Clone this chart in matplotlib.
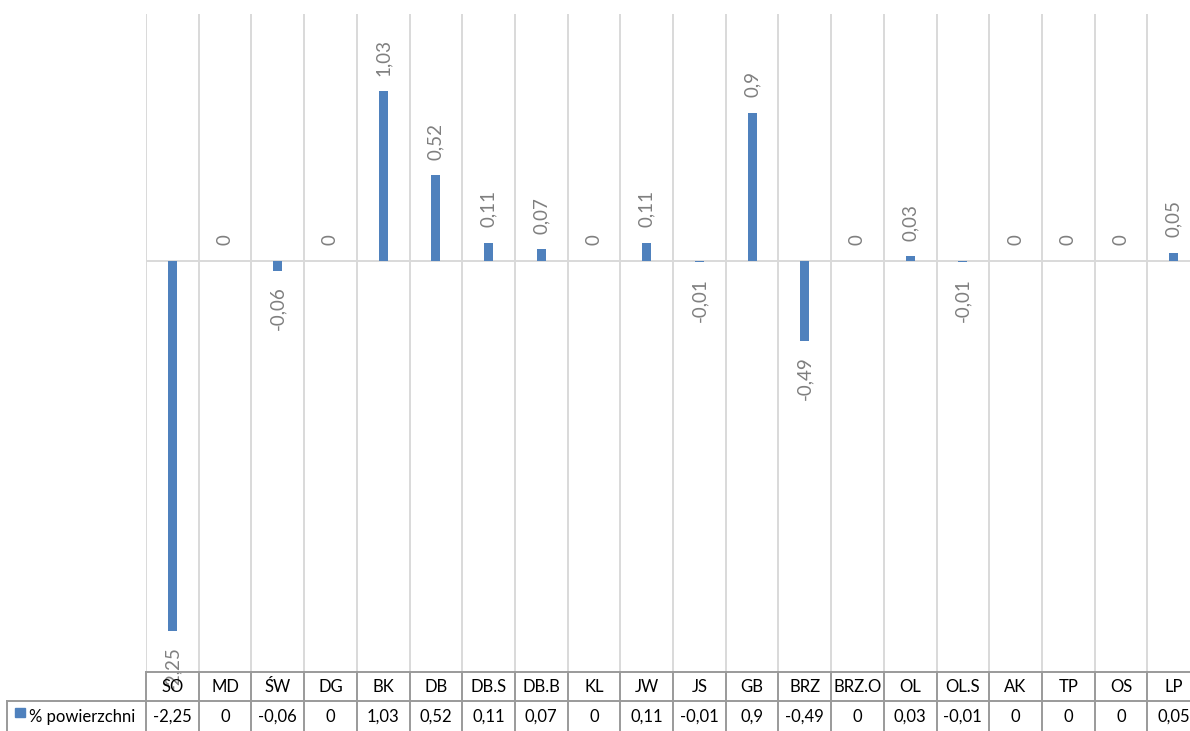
import numpy as np
import matplotlib.pyplot as plt
from matplotlib.lines import Line2D
from matplotlib.patches import Rectangle
from matplotlib.transforms import blended_transform_factory

categories = ["SO", "MD", "ŚW", "DG", "BK", "DB", "DB.S", "DB.B", "KL", "JW",
              "JS", "GB", "BRZ", "BRZ.O", "OL", "OL.S", "AK", "TP", "OS", "LP"]
values = [-2.25, 0, -0.06, 0, 1.03, 0.52, 0.11, 0.07, 0, 0.11,
          -0.01, 0.9, -0.49, 0, 0.03, -0.01, 0, 0, 0, 0.05]
series_name = "% powierzchni"

plt.rcParams['font.family'] = ['Lato', 'DejaVu Sans']

W, H = 1190, 731
fig = plt.figure(figsize=(W / 100, H / 100), dpi=100)

# plot area (runs a little past the right edge, like the original sheet)
ax = fig.add_axes([146 / W, 1 - 672 / H, (1200 - 146) / W, (672 - 14) / H])
ax.set_xlim(-0.5, len(categories) - 0.5)
ax.set_ylim(-2.5, 1.5)
ax.axis('off')

bar_col = '#4f81bd'
grid_col = '#d9d9d9'
table_col = '#9a9a9a'

x = np.arange(len(categories))
ax.bar(x, values, width=0.17, color=bar_col, zorder=3)

edges = np.arange(len(categories) + 1) - 0.5
for e in edges:
    ax.axvline(e, color=grid_col, lw=1.4, zorder=1)
ax.axhline(0, color=grid_col, lw=1.4, zorder=2)

# rotated data labels
for xi, v in zip(x, values):
    txt = f"{v:g}".replace('.', ',')
    up = v >= 0
    ax.annotate(txt, (xi, v), xytext=(0, 11 if up else -11),
                textcoords='offset points', rotation=90,
                ha='center', va='bottom' if up else 'top',
                color='#7f7f7f', fontsize=13.5,
                annotation_clip=False, zorder=4)

# data table under the chart
tr = blended_transform_factory(ax.transData, fig.transFigure)
def fy(py):
    return 1 - py / H

y_top, y_mid, y_bot = 672, 701, 731
line_kw = dict(color=table_col, lw=1.4)
fig.add_artist(Line2D([edges[0], edges[-1]], [fy(y_top)] * 2, transform=tr, **line_kw))
fig.add_artist(Line2D([7 / W, 146 / W], [fy(y_mid)] * 2, transform=fig.transFigure, **line_kw))
fig.add_artist(Line2D([edges[0], edges[-1]], [fy(y_mid)] * 2, transform=tr, **line_kw))
fig.add_artist(Line2D([7 / W] * 2, [fy(y_mid), fy(y_bot)], transform=fig.transFigure, **line_kw))
for e in edges:
    fig.add_artist(Line2D([e, e], [fy(y_top), fy(y_bot)], transform=tr, **line_kw))

for xi, c, v in zip(x, categories, values):
    fig.text(xi, fy((y_top + y_mid) / 2 + 1), c, transform=tr, ha='center',
             va='center', fontsize=12, color='black')
    fig.text(xi, fy((y_mid + y_bot) / 2 + 1), f"{v:g}".replace('.', ','),
             transform=tr, ha='center', va='center', fontsize=12, color='black')

fig.add_artist(Rectangle((15 / W, fy(717)), 10 / W, 9 / H, transform=fig.transFigure,
                         color=bar_col))
fig.text(29 / W, fy((y_mid + y_bot) / 2 + 1), series_name, ha='left', va='center',
         fontsize=12, color='black')

fig.savefig('out.png', dpi=100)
